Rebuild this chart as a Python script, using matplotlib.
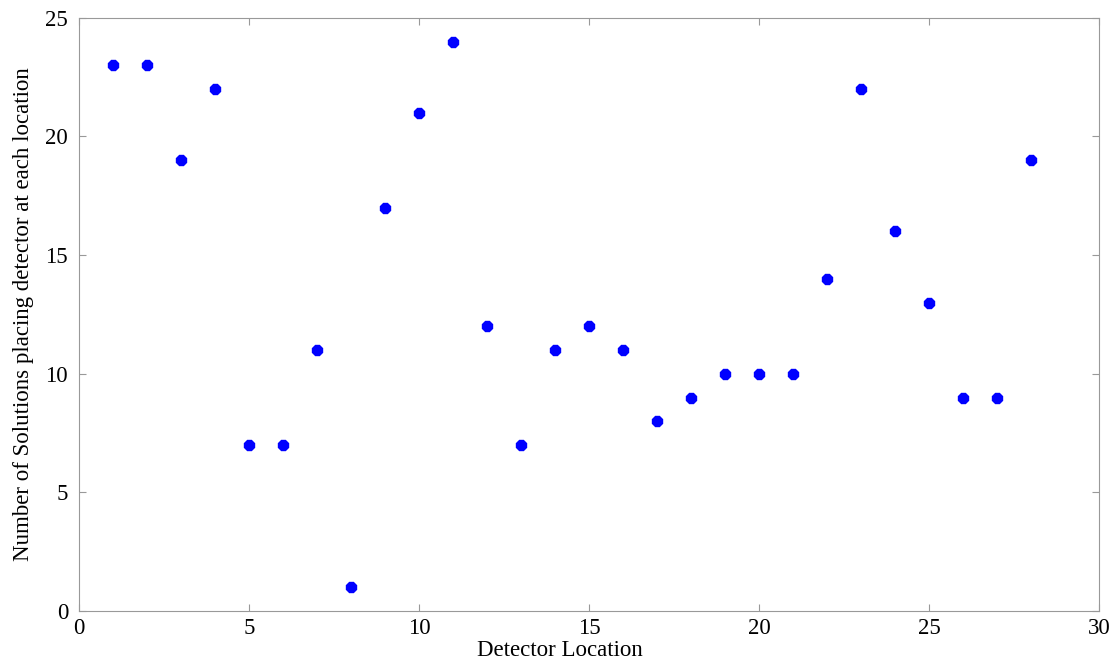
import matplotlib
matplotlib.use("Agg")
from matplotlib import pyplot as plt

# detector locations and solution counts
locations = list(range(1, 29))
counts = [23, 23, 19, 22, 7, 7, 11, 1, 17, 21, 24, 12, 7, 11, 12, 11,
          8, 9, 10, 10, 10, 14, 22, 16, 13, 9, 9, 19]

plt.rcParams['font.family'] = ['Liberation Serif', 'DejaVu Serif']

fig = plt.figure(figsize=(11.15, 6.6), dpi=100)
ax = fig.add_axes([0.071, 0.074, 0.915, 0.899])
ax.plot(locations, counts, '8', color='#0000ff', markersize=7.5, linestyle='none')

ax.set_xlim(0, 30)
ax.set_ylim(0, 25)
ax.set_xticks(range(0, 31, 5))
ax.set_yticks(range(0, 26, 5))
ax.tick_params(direction='in', top=True, right=True, labelsize=16.5,
               color='#999999', length=5)
ax.tick_params(axis='x', pad=5)
ax.tick_params(axis='y', pad=8)
for s in ax.spines.values():
    s.set_color('#999999')
    s.set_linewidth(0.8)

ax.set_xlabel("Detector Location", fontsize=16.5, labelpad=0)
ax.xaxis.set_label_coords(0.471, -0.048)
ax.set_ylabel("Number of Solutions placing detector at each location", fontsize=16.5, labelpad=8)

plt.savefig("out.png", dpi=100)
